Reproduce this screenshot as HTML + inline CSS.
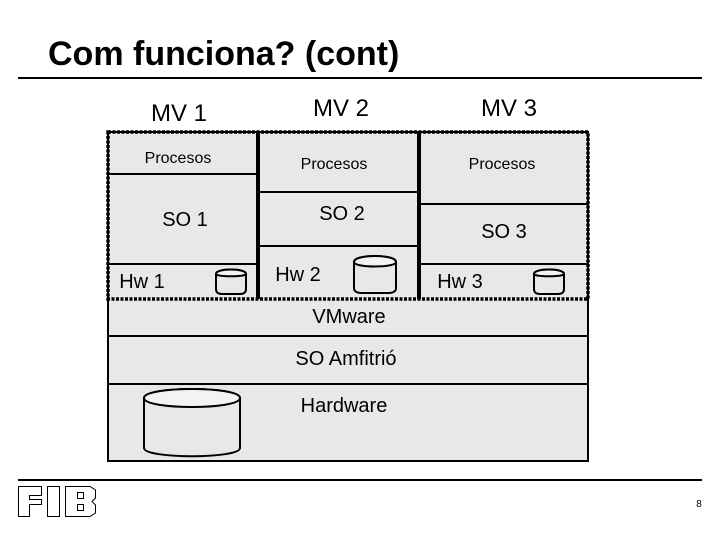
<!DOCTYPE html>
<html>
<head>
<meta charset="utf-8">
<style>
html,body{margin:0;padding:0;background:#fff;width:720px;height:540px;overflow:hidden}
svg{display:block}
text{font-family:"Liberation Sans",sans-serif;fill:#000}
</style>
</head>
<body>
<svg width="720" height="540" viewBox="0 0 720 540" xmlns="http://www.w3.org/2000/svg">
<text x="48" y="65" font-size="34" font-weight="bold">Com funciona? (cont)</text>
<rect x="18" y="77" width="684" height="2"/>
<rect x="18" y="479" width="684" height="2"/>

<rect x="108" y="132" width="480" height="329" fill="#e8e8e8" stroke="#000" stroke-width="2"/>

<g stroke="#000" stroke-width="2" fill="none">
<path d="M108 174H258M108 264H258M258 192H419M258 246H419M419 204H588M419 264H588"/>
<path d="M108 336H588M108 384H588"/>
</g>
<path d="M258 132V299M419 132V299" stroke="#000" stroke-width="4" fill="none"/>
<rect x="108" y="132" width="480" height="167" fill="none" stroke="#000" stroke-width="3.500" stroke-dasharray="3 1.500"/>

<g fill="#e8e8e8" stroke="#000" stroke-width="2">
<path d="M216 274C216 268 246 268 246 274V289Q246 294 240 294H222Q216 294 216 289Z"/>
<path d="M354 262C354 254 396 254 396 262V288Q396 293 388 293H362Q354 293 354 288Z"/>
<path d="M534 274C534 268 564 268 564 274V289Q564 294 558 294H540Q534 294 534 289Z"/>
<path d="M144 398C144 386 240 386 240 398V448C240 459 144 459 144 448Z"/>
</g>
<g fill="#f3f3f3" stroke="#000" stroke-width="2">
<path d="M216 274C216 277 246 277 246 274C246 268 216 268 216 274Z"/>
<path d="M354 262C354 268 396 268 396 262C396 254 354 254 354 262Z"/>
<path d="M534 274C534 277 564 277 564 274C564 268 534 268 534 274Z"/>
<path d="M144 398C144 410 240 410 240 398C240 386 144 386 144 398Z"/>
</g>

<g text-anchor="middle">
<text x="179" y="121" font-size="24">MV 1</text>
<text x="341" y="116" font-size="24">MV 2</text>
<text x="509" y="116" font-size="24">MV 3</text>
<text x="178" y="163" font-size="16">Procesos</text>
<text x="334" y="169" font-size="16">Procesos</text>
<text x="502" y="169" font-size="16">Procesos</text>
<text x="185" y="226" font-size="20">SO 1</text>
<text x="342" y="220" font-size="20">SO 2</text>
<text x="504" y="238" font-size="20">SO 3</text>
<text x="142" y="288" font-size="20">Hw 1</text>
<text x="298" y="281" font-size="20">Hw 2</text>
<text x="460" y="288" font-size="20">Hw 3</text>
<text x="349" y="323" font-size="20">VMware</text>
<text x="346" y="365" font-size="20">SO Amfitrió</text>
<text x="344" y="412" font-size="20">Hardware</text>
<text x="699" y="507" font-size="10">8</text>
</g>

<g fill="#fff" stroke="#000" stroke-width="1">
<path d="M18.500 486.500H41.500V495.500H29.500V499.500H41.500V504.500H29.500V516.500H18.500Z"/>
<rect x="47.500" y="486.500" width="12" height="30"/>
<path d="M65.500 486.500H90L95.500 490V498L92 501.500L95.500 505V513L90 516.500H65.500Z"/>
<rect x="77.500" y="492.500" width="6" height="6"/>
<rect x="77.500" y="504.500" width="6" height="6"/>
</g>
</svg>
</body>
</html>
